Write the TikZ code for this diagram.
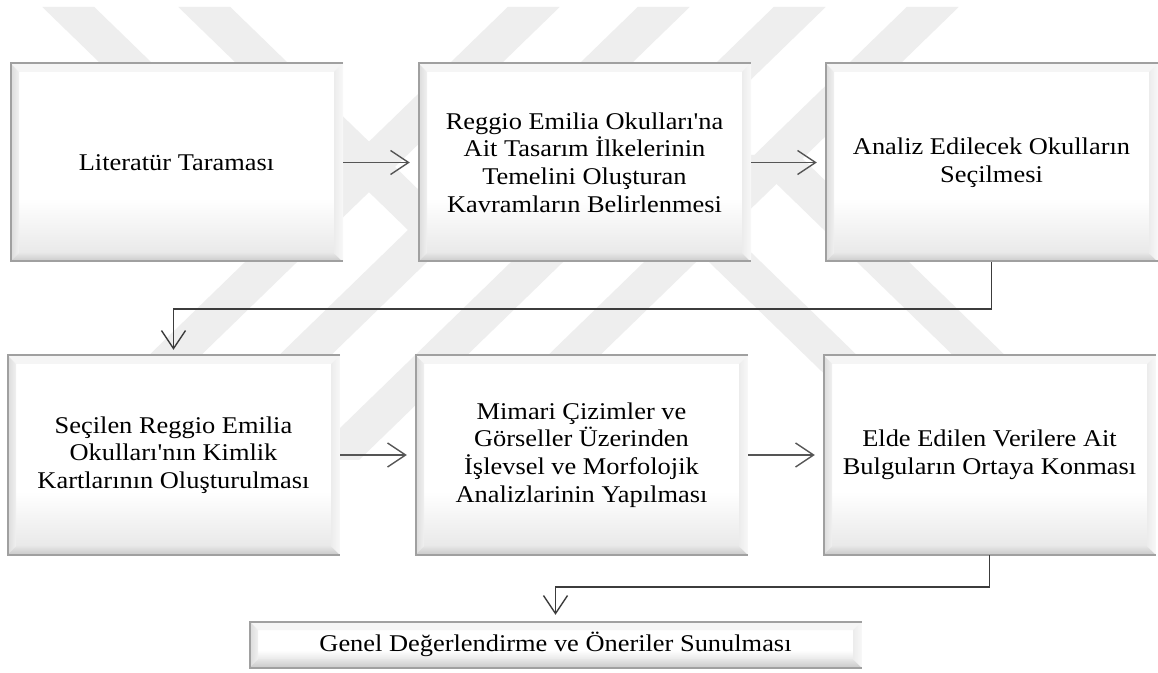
\documentclass[tikz,border=0pt]{standalone}
\usepackage{fontspec}
\setmainfont{Liberation Serif}[Ligatures=TeXOff,FakeStretch=1.1]
\usetikzlibrary{arrows.meta,calc}

\definecolor{wmark}{RGB}{238,238,238}
\definecolor{bordcol}{RGB}{160,160,160}
\definecolor{bvtop}{RGB}{245,245,245}
\definecolor{bvleftA}{RGB}{218,218,218}
\definecolor{bvleftB}{RGB}{240,240,240}
\definecolor{bvbotA}{RGB}{230,230,230}
\definecolor{bvbotB}{RGB}{200,200,200}
\definecolor{bvrightA}{RGB}{236,236,236}
\definecolor{bvrightB}{RGB}{248,248,248}
\definecolor{facebot}{RGB}{233,233,233}
\definecolor{linkcol}{RGB}{60,60,60}
\definecolor{arrowcol}{RGB}{85,85,85}

\newcommand{\boxfont}{\fontsize{24}{27.7}\selectfont}

\tikzset{
  bevelbox/.style={
    rectangle, inner sep=0pt, align=center, font=\boxfont,
    path picture={
      \coordinate (pp-sw) at (path picture bounding box.south west);
      \coordinate (pp-ne) at (path picture bounding box.north east);
      \coordinate (pp-nw) at (path picture bounding box.north west);
      \coordinate (pp-se) at (path picture bounding box.south east);
      \coordinate (in-sw) at ([shift={(9pt,9pt)}]pp-sw);
      \coordinate (in-ne) at ([shift={(-9pt,-9pt)}]pp-ne);
      \coordinate (in-nw) at ([shift={(9pt,-9pt)}]pp-nw);
      \coordinate (in-se) at ([shift={(-9pt,9pt)}]pp-se);
      % face: white, greying towards the lower edge
      \fill[white] (in-sw) rectangle (in-ne);
      \shade[top color=white, bottom color=facebot]
        (in-sw) rectangle ($(in-se)!0.3!(in-ne)$);
      % bevelled rim
      \fill[bvtop] (pp-nw) -- (pp-ne) -- (in-ne) -- (in-nw) -- cycle;
      \shade[left color=bvleftA, right color=bvleftB]
        (pp-sw) -- (pp-nw) -- (in-nw) -- (in-sw) -- cycle;
      \shade[top color=bvbotA, bottom color=bvbotB]
        (pp-sw) -- (in-sw) -- (in-se) -- (pp-se) -- cycle;
      \shade[left color=bvrightA, right color=bvrightB]
        (pp-se) -- (in-se) -- (in-ne) -- (pp-ne) -- cycle;
      % outer edge on three sides
      \draw[bordcol, line width=3pt] (pp-se) -- (pp-sw) -- (pp-nw) -- (pp-ne);
    }},
  flowarrow/.style={draw=arrowcol, line width=1.2pt,
    -{Straight Barb[length=18pt,width=24pt,line width=1.4pt]}},
  linkline/.style={draw=linkcol, line width=1.5pt,
    -{Straight Barb[length=18pt,width=24pt,line width=1.4pt]}}
}

\begin{document}
\begin{tikzpicture}[x=1pt,y=1pt]
\useasboundingbox (0,0) rectangle (1158,672);
\fill[white] (0,0) rectangle (1158,672);

% light diagonal stripes in the background
\fill[wmark] (42.3,665) -- (94.3,665) -- (324,442) -- (272,442) -- cycle;
\fill[wmark] (178.3,665) -- (230.3,665) -- (460,442) -- (408,442) -- cycle;
\fill[wmark] (507.7,665) -- (559.7,665) -- (93.1,212) -- (41.1,212) -- cycle;
\fill[wmark] (637.7,665) -- (689.7,665) -- (223.1,212) -- (171.1,212) -- cycle;
\fill[wmark] (773.7,665) -- (825.7,665) -- (359.1,212) -- (307.1,212) -- cycle;
\fill[wmark] (906.7,665) -- (958.7,665) -- (492.1,212) -- (440.1,212) -- cycle;
\fill[wmark] (619.4,497) -- (671.4,497) -- (975.2,202) -- (923.2,202) -- cycle;
\fill[wmark] (746.8,517) -- (798.8,517) -- (1123.2,202) -- (1071.2,202) -- cycle;

% first row
\node[bevelbox, minimum width=333pt, minimum height=199pt] (b1) at (176.5,509.5)
  {Literatür Taraması};
\node[bevelbox, minimum width=333pt, minimum height=199pt] (b2) at (584.5,509.5)
  {Reggio Emilia Okulları'na\\Ait Tasarım İlkelerinin\\Temelini Oluşturan\\Kavramların Belirlenmesi};
\node[bevelbox, minimum width=333pt, minimum height=199pt] (b3) at (991.5,509.5)
  {Analiz Edilecek Okulların\\Seçilmesi};

% second row
\node[bevelbox, minimum width=333pt, minimum height=200pt] (b4) at (173.5,217)
  {Seçilen Reggio Emilia\\Okulları'nın Kimlik\\Kartlarının Oluşturulması};
\node[bevelbox, minimum width=333pt, minimum height=200pt] (b5) at (581.5,217)
  {Mimari Çizimler ve\\Görseller Üzerinden\\İşlevsel ve Morfolojik\\Analizlarinin Yapılması};
\node[bevelbox, minimum width=333pt, minimum height=200pt] (b6) at (989.5,217)
  {Elde Edilen Verilere Ait\\Bulguların Ortaya Konması};

% closing step
\node[bevelbox, minimum width=613pt, minimum height=47pt] (b7) at (555.5,27.5)
  {Genel Değerlendirme ve Öneriler Sunulması};

% connectors
\draw[flowarrow, shorten >=8pt] (b1) -- (b2);
\draw[flowarrow, shorten >=8pt] (b2) -- (b3);
\draw[flowarrow, shorten >=8pt] (b4) -- (b5);
\draw[flowarrow, shorten >=8pt] (b5) -- (b6);
\draw[linkline, shorten >=5pt] (b3.south) -- ++(0,-47) -| (b4.north);
\draw[linkline, shorten >=6pt] (b6.south) -- ++(0,-32) -| (b7.north);
\end{tikzpicture}
\end{document}
